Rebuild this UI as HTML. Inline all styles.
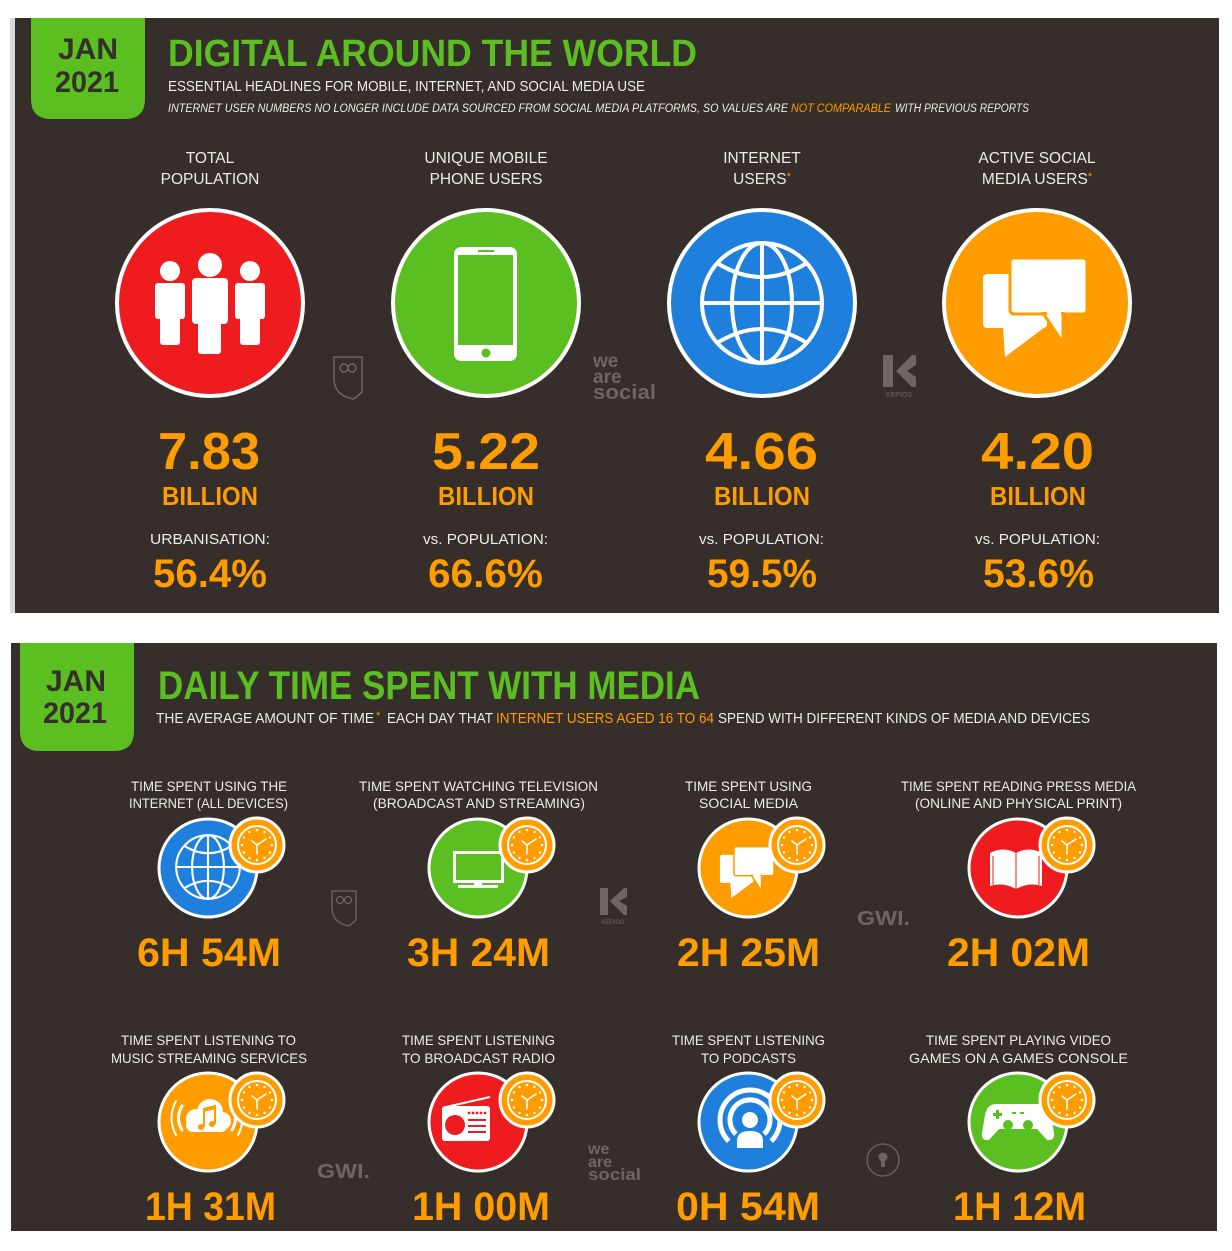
<!DOCTYPE html>
<html><head><meta charset="utf-8"><style>
html,body{margin:0;padding:0;background:#fff;}
svg{display:block;}
text{font-family:"Liberation Sans",sans-serif;}
</style></head><body>
<svg width="1232" height="1251" viewBox="0 0 1232 1251" xmlns="http://www.w3.org/2000/svg">
<defs>
  <g id="clk">
    <circle r="27" fill="#ff9c00" stroke="#fff" stroke-width="3"/>
    <circle r="19" fill="none" stroke="#fff" stroke-width="2"/>
    <g fill="#fff">
      <circle cx="0" cy="-15" r="1.3"/><circle cx="7.5" cy="-13" r="1.2"/><circle cx="13" cy="-7.5" r="1.2"/>
      <circle cx="15" cy="0" r="1.3"/><circle cx="13" cy="7.5" r="1.2"/><circle cx="7.5" cy="13" r="1.2"/>
      <circle cx="0" cy="15" r="1.3"/><circle cx="-7.5" cy="13" r="1.2"/><circle cx="-13" cy="7.5" r="1.2"/>
      <circle cx="-15" cy="0" r="1.3"/><circle cx="-13" cy="-7.5" r="1.2"/><circle cx="-7.5" cy="-13" r="1.2"/>
    </g>
    <g stroke="#fff" stroke-width="1.6" stroke-linecap="round">
      <line x1="0" y1="0" x2="9" y2="-6"/><line x1="0" y1="0" x2="-5" y2="-4"/><line x1="0" y1="0" x2="0" y2="9"/>
    </g>
  </g>
  <g id="globe" fill="none" stroke="#fff" stroke-width="4">
    <circle r="60"/>
    <line x1="0" y1="-60" x2="0" y2="60"/>
    <line x1="-60" y1="0" x2="60" y2="0"/>
    <ellipse rx="30" ry="60"/>
    <path d="M-45,-40 Q0,-12 45,-40"/>
    <path d="M-45,40 Q0,12 45,40"/>
  </g>
  <g id="chat">
    <rect x="-54" y="-29" width="64" height="54" rx="4" fill="#fff"/>
    <polygon points="-34,24 -32,54 8,24" fill="#fff"/>
    <rect x="-27" y="-45" width="77" height="56" rx="4" fill="#fff" stroke="#ff9c00" stroke-width="3"/>
    <polygon points="6,10 26,40 26,10" fill="#fff" stroke="#ff9c00" stroke-width="3" stroke-linejoin="round"/>
    <rect x="-25" y="-43" width="73" height="52" rx="3" fill="#fff"/>
    <polygon points="9,8 24,34 24,8" fill="#fff"/>
  </g>
</defs>

<!-- ============ TOP PANEL ============ -->
<rect x="10" y="18" width="5" height="595" fill="#d9d9d9"/>
<rect x="15" y="18" width="1204" height="595" fill="#352e2a"/>
<path d="M31,18 H145 V99 Q145,119 125,119 H51 Q31,119 31,99 Z" fill="#5bbf21"/>
<text x="88" y="59" font-size="30" font-weight="bold" fill="#352e2a" text-anchor="middle">JAN</text>
<text x="55" y="92" font-size="30" font-weight="bold" fill="#352e2a" textLength="64" lengthAdjust="spacingAndGlyphs">2021</text>

<text x="168" y="66" font-size="38" font-weight="bold" fill="#5bbf21" textLength="529" lengthAdjust="spacingAndGlyphs">DIGITAL AROUND THE WORLD</text>
<text x="168" y="91" font-size="15" fill="#ececec" textLength="477" lengthAdjust="spacingAndGlyphs">ESSENTIAL HEADLINES FOR MOBILE, INTERNET, AND SOCIAL MEDIA USE</text>
<text x="168" y="112" font-size="11.5" font-style="italic" fill="#ececec" textLength="620" lengthAdjust="spacingAndGlyphs">INTERNET USER NUMBERS NO LONGER INCLUDE DATA SOURCED FROM SOCIAL MEDIA PLATFORMS, SO VALUES ARE</text>
<text x="791" y="112" font-size="11.5" font-style="italic" fill="#ff9c00" textLength="100" lengthAdjust="spacingAndGlyphs">NOT COMPARABLE</text>
<text x="895" y="112" font-size="11.5" font-style="italic" fill="#ececec" textLength="134" lengthAdjust="spacingAndGlyphs">WITH PREVIOUS REPORTS</text>

<g font-size="15.5" fill="#ececec" text-anchor="middle">
  <text x="210" y="163">TOTAL</text>
  <text x="210" y="184">POPULATION</text>
  <text x="486" y="163">UNIQUE MOBILE</text>
  <text x="486" y="184">PHONE USERS</text>
  <text x="762" y="163">INTERNET</text>
  <text x="762" y="184">USERS<tspan fill="#ff9c00" font-size="11" dy="-4">*</tspan></text>
  <text x="1037" y="163">ACTIVE SOCIAL</text>
  <text x="1037" y="184">MEDIA USERS<tspan fill="#ff9c00" font-size="11" dy="-4">*</tspan></text>
</g>

<!-- circles -->
<circle cx="210" cy="303" r="93" fill="#ee1c1e" stroke="#fff" stroke-width="4"/>
<circle cx="486" cy="303" r="93" fill="#5bbf21" stroke="#fff" stroke-width="4"/>
<circle cx="762" cy="303" r="93" fill="#1e7fdc" stroke="#fff" stroke-width="4"/>
<circle cx="1037" cy="303" r="93" fill="#ff9c00" stroke="#fff" stroke-width="4"/>

<!-- people -->
<g fill="#fff">
  <circle cx="210" cy="265" r="12"/>
  <rect x="192" y="278" width="36" height="46" rx="4"/>
  <rect x="198" y="310" width="23" height="44" rx="3"/>
  <circle cx="170" cy="271" r="10"/>
  <rect x="155" y="283" width="30" height="36" rx="3"/>
  <rect x="160" y="305" width="20" height="40" rx="3"/>
  <circle cx="250" cy="271" r="10"/>
  <rect x="235" y="283" width="30" height="36" rx="3"/>
  <rect x="240" y="305" width="20" height="40" rx="3"/>
</g>
<g stroke="#ee1c1e" stroke-width="2">
  <line x1="191" y1="280" x2="191" y2="324"/>
  <line x1="229" y1="280" x2="229" y2="324"/>
</g>

<!-- phone -->
<rect x="454" y="247" width="63" height="114" rx="7" fill="#fff"/>
<rect x="458" y="255" width="55" height="90" fill="#5bbf21"/>
<circle cx="486" cy="353" r="4.5" fill="#5bbf21"/>
<rect x="478" y="250" width="16" height="2" fill="#5bbf21"/>

<!-- globe -->
<use href="#globe" x="762" y="303"/>

<!-- chat -->
<use href="#chat" x="1037" y="303"/>

<!-- top logos -->
<g fill="none" stroke="#6d6764" stroke-width="1.5">
  <path d="M334,357 H362 V392 L354,399 Q334,396 334,378 Z"/>
  <circle cx="344" cy="368" r="4"/><circle cx="352" cy="368" r="4"/>
</g>
<g font-weight="bold" fill="#6d6764">
  <text x="593" y="367" font-size="19">we</text>
  <text x="593" y="383" font-size="19">are</text>
  <text x="593" y="399" font-size="20" textLength="63" lengthAdjust="spacingAndGlyphs">social</text>
</g>
<g fill="#6d6764">
  <rect x="883" y="355" width="10" height="32"/>
  <polygon points="896,371 912,355 916,355 916,365 907,371 916,377 916,387 912,387"/>
  <text x="899" y="397" font-size="7" text-anchor="middle">KEPIOS</text>
</g>

<!-- top numbers -->
<g font-weight="bold" fill="#ff9c00">
  <text x="158" y="469" font-size="52" textLength="102" lengthAdjust="spacingAndGlyphs">7.83</text>
  <text x="432" y="469" font-size="52" textLength="108" lengthAdjust="spacingAndGlyphs">5.22</text>
  <text x="705" y="469" font-size="52" textLength="113" lengthAdjust="spacingAndGlyphs">4.66</text>
  <text x="981" y="469" font-size="52" textLength="113" lengthAdjust="spacingAndGlyphs">4.20</text>
  <text x="162" y="505" font-size="26" textLength="96" lengthAdjust="spacingAndGlyphs">BILLION</text>
  <text x="438" y="505" font-size="26" textLength="96" lengthAdjust="spacingAndGlyphs">BILLION</text>
  <text x="714" y="505" font-size="26" textLength="96" lengthAdjust="spacingAndGlyphs">BILLION</text>
  <text x="990" y="505" font-size="26" textLength="96" lengthAdjust="spacingAndGlyphs">BILLION</text>
  <text x="153" y="587" font-size="40" textLength="114" lengthAdjust="spacingAndGlyphs">56.4%</text>
  <text x="428" y="587" font-size="40" textLength="115" lengthAdjust="spacingAndGlyphs">66.6%</text>
  <text x="707" y="587" font-size="40" textLength="110" lengthAdjust="spacingAndGlyphs">59.5%</text>
  <text x="983" y="587" font-size="40" textLength="111" lengthAdjust="spacingAndGlyphs">53.6%</text>
</g>
<g font-size="15" fill="#ececec">
  <text x="150" y="544" textLength="120" lengthAdjust="spacingAndGlyphs">URBANISATION:</text>
  <text x="423" y="544" textLength="125" lengthAdjust="spacingAndGlyphs">vs. POPULATION:</text>
  <text x="699" y="544" textLength="125" lengthAdjust="spacingAndGlyphs">vs. POPULATION:</text>
  <text x="975" y="544" textLength="125" lengthAdjust="spacingAndGlyphs">vs. POPULATION:</text>
</g>

<!-- ============ BOTTOM PANEL ============ -->
<rect x="11" y="643" width="1206" height="588" fill="#352e2a"/>
<path d="M20,643 H134 V731 Q134,751 114,751 H40 Q20,751 20,731 Z" fill="#5bbf21"/>
<text x="76" y="691" font-size="30" font-weight="bold" fill="#352e2a" text-anchor="middle">JAN</text>
<text x="43" y="723" font-size="30" font-weight="bold" fill="#352e2a" textLength="64" lengthAdjust="spacingAndGlyphs">2021</text>

<text x="158" y="699" font-size="40" font-weight="bold" fill="#5bbf21" textLength="542" lengthAdjust="spacingAndGlyphs">DAILY TIME SPENT WITH MEDIA</text>
<g font-size="14.5">
  <text x="156" y="723" fill="#ececec" textLength="218" lengthAdjust="spacingAndGlyphs">THE AVERAGE AMOUNT OF TIME</text>
  <text x="376" y="719" fill="#ff9c00" font-size="11">*</text>
  <text x="387" y="723" fill="#ececec" textLength="106" lengthAdjust="spacingAndGlyphs">EACH DAY THAT</text>
  <text x="496" y="723" fill="#ff9c00" textLength="218" lengthAdjust="spacingAndGlyphs">INTERNET USERS AGED 16 TO 64</text>
  <text x="718" y="723" fill="#ececec" textLength="372" lengthAdjust="spacingAndGlyphs">SPEND WITH DIFFERENT KINDS OF MEDIA AND DEVICES</text>
</g>

<g font-size="14" fill="#ececec">
  <text x="131" y="791" textLength="156" lengthAdjust="spacingAndGlyphs">TIME SPENT USING THE</text>
  <text x="129" y="808" textLength="159" lengthAdjust="spacingAndGlyphs">INTERNET (ALL DEVICES)</text>
  <text x="359" y="791" textLength="239" lengthAdjust="spacingAndGlyphs">TIME SPENT WATCHING TELEVISION</text>
  <text x="373" y="808" textLength="212" lengthAdjust="spacingAndGlyphs">(BROADCAST AND STREAMING)</text>
  <text x="685" y="791" textLength="127" lengthAdjust="spacingAndGlyphs">TIME SPENT USING</text>
  <text x="699" y="808" textLength="99" lengthAdjust="spacingAndGlyphs">SOCIAL MEDIA</text>
  <text x="901" y="791" textLength="235" lengthAdjust="spacingAndGlyphs">TIME SPENT READING PRESS MEDIA</text>
  <text x="915" y="808" textLength="207" lengthAdjust="spacingAndGlyphs">(ONLINE AND PHYSICAL PRINT)</text>

  <text x="121" y="1045" textLength="175" lengthAdjust="spacingAndGlyphs">TIME SPENT LISTENING TO</text>
  <text x="111" y="1063" textLength="196" lengthAdjust="spacingAndGlyphs">MUSIC STREAMING SERVICES</text>
  <text x="402" y="1045" textLength="153" lengthAdjust="spacingAndGlyphs">TIME SPENT LISTENING</text>
  <text x="402" y="1063" textLength="153" lengthAdjust="spacingAndGlyphs">TO BROADCAST RADIO</text>
  <text x="672" y="1045" textLength="153" lengthAdjust="spacingAndGlyphs">TIME SPENT LISTENING</text>
  <text x="701" y="1063" textLength="95" lengthAdjust="spacingAndGlyphs">TO PODCASTS</text>
  <text x="926" y="1045" textLength="185" lengthAdjust="spacingAndGlyphs">TIME SPENT PLAYING VIDEO</text>
  <text x="909" y="1063" textLength="219" lengthAdjust="spacingAndGlyphs">GAMES ON A GAMES CONSOLE</text>
</g>

<!-- bottom circles row 1 -->
<circle cx="208" cy="868" r="49" fill="#1e7fdc" stroke="#fff" stroke-width="3"/>
<circle cx="478" cy="868" r="49" fill="#5bbf21" stroke="#fff" stroke-width="3"/>
<circle cx="748" cy="868" r="49" fill="#ff9c00" stroke="#fff" stroke-width="3"/>
<circle cx="1018" cy="868" r="49" fill="#ee1c1e" stroke="#fff" stroke-width="3"/>
<!-- row 2 -->
<circle cx="208" cy="1122" r="49" fill="#ff9c00" stroke="#fff" stroke-width="3"/>
<circle cx="478" cy="1122" r="49" fill="#ee1c1e" stroke="#fff" stroke-width="3"/>
<circle cx="748" cy="1122" r="49" fill="#1e7fdc" stroke="#fff" stroke-width="3"/>
<circle cx="1018" cy="1122" r="49" fill="#5bbf21" stroke="#fff" stroke-width="3"/>

<!-- globe small -->
<g transform="translate(208,867) scale(0.53)"><use href="#globe"/></g>
<!-- tv -->
<rect x="454.5" y="852.5" width="48" height="29" fill="#5bbf21" stroke="#fff" stroke-width="3"/>
<rect x="474" y="882" width="8" height="4" fill="#fff"/>
<rect x="458" y="885" width="40" height="3" fill="#fff"/>
<!-- chat small -->
<g transform="translate(748,870) scale(0.52)"><use href="#chat"/></g>
<!-- book -->
<g fill="#fff">
  <path d="M990,853 Q1003,846 1016,853 V889 Q1003,882 990,886 Z"/>
  <path d="M1042,853 Q1029,846 1016,853 V889 Q1029,882 1042,886 Z"/>
</g>
<g fill="none" stroke="#ee1c1e" stroke-width="1">
  <line x1="1016" y1="853" x2="1016" y2="889"/>
  <path d="M993,856 V885"/><path d="M1039,856 V885"/>
</g>
<!-- music cloud -->
<g fill="#fff">
  <circle cx="196" cy="1119" r="10"/>
  <circle cx="210" cy="1112" r="13"/>
  <circle cx="222" cy="1121" r="9"/>
  <rect x="186" y="1118" width="42" height="14" rx="7"/>
</g>
<g fill="#ff9c00">
  <circle cx="201" cy="1127" r="3"/>
  <circle cx="212" cy="1124" r="3"/>
  <rect x="203" y="1108" width="2" height="19"/>
  <rect x="214" y="1105" width="2" height="19"/>
  <polygon points="203,1108 216,1105 216,1109 203,1112"/>
</g>
<g fill="none" stroke="#fff" stroke-linecap="round">
  <path d="M182,1106 Q175,1118 182,1130" stroke-width="3"/>
  <path d="M176,1101 Q167,1118 176,1135" stroke-width="2"/>
  <path d="M232,1106 Q239,1118 232,1130" stroke-width="3"/>
  <path d="M238,1101 Q247,1118 238,1135" stroke-width="2"/>
</g>
<!-- radio -->
<line x1="446" y1="1107" x2="490" y2="1097" stroke="#fff" stroke-width="2"/>
<rect x="442" y="1106" width="48" height="35" rx="3" fill="#fff"/>
<circle cx="455" cy="1125" r="10" fill="#ee1c1e"/>
<g fill="#ee1c1e">
  <circle cx="469" cy="1113" r="1.4"/><circle cx="473" cy="1113" r="1.4"/><circle cx="477" cy="1113" r="1.4"/><circle cx="481" cy="1113" r="1.4"/><circle cx="485" cy="1113" r="1.4"/>
  <rect x="468" y="1119" width="18" height="2"/><rect x="468" y="1125" width="18" height="2"/><rect x="468" y="1131" width="18" height="2"/>
</g>
<!-- podcast -->
<g fill="none" stroke="#fff" stroke-width="5">
  <path d="M728.8,1141.2 A30,30 0 1 1 771.2,1141.2"/>
  <path d="M735.9,1134.1 A20,20 0 1 1 764.1,1134.1"/>
</g>
<circle cx="750" cy="1120" r="8" fill="#fff"/>
<path d="M737,1148 V1141 Q737,1131 750,1131 Q763,1131 763,1141 V1148 Z" fill="#fff"/>
<!-- gamepad -->
<path d="M996,1104 H1040 Q1049,1104 1051,1115 L1054,1133 Q1055,1141 1047,1140 L1037,1129 H999 L989,1140 Q981,1141 982,1133 L985,1115 Q987,1104 996,1104 Z" fill="#fff"/>
<g fill="#5bbf21">
  <rect x="993" y="1113" width="9" height="3"/><rect x="996" y="1110" width="3" height="9"/>
  <circle cx="1008" cy="1125" r="5"/><circle cx="1028" cy="1125" r="5"/>
  <rect x="1012" y="1112" width="4" height="2"/><rect x="1020" y="1112" width="4" height="2"/>
</g>

<!-- clocks -->
<use href="#clk" x="257" y="845"/>
<use href="#clk" x="527" y="845"/>
<use href="#clk" x="797" y="845"/>
<use href="#clk" x="1067" y="845"/>
<use href="#clk" x="257" y="1100"/>
<use href="#clk" x="527" y="1100"/>
<use href="#clk" x="797" y="1100"/>
<use href="#clk" x="1067" y="1100"/>

<!-- bottom logos -->
<g fill="none" stroke="#6d6764" stroke-width="1.3">
  <path d="M332,891 H356 V920 L349,926 Q332,923 332,907 Z"/>
  <circle cx="340" cy="900" r="3.5"/><circle cx="348" cy="900" r="3.5"/>
</g>
<g fill="#6d6764">
  <rect x="600" y="888" width="8" height="27"/>
  <polygon points="610,901 624,888 627,888 627,897 619,901 627,906 627,915 624,915"/>
  <text x="613" y="924" font-size="6" text-anchor="middle">KEPIOS</text>
</g>
<g font-weight="bold" fill="#6d6764">
  <text x="857" y="925" font-size="20" textLength="53" lengthAdjust="spacingAndGlyphs">GWI.</text>
  <text x="317" y="1178" font-size="20" textLength="53" lengthAdjust="spacingAndGlyphs">GWI.</text>
  <text x="588" y="1154" font-size="16">we</text>
  <text x="588" y="1167" font-size="16">are</text>
  <text x="588" y="1180" font-size="17" textLength="53" lengthAdjust="spacingAndGlyphs">social</text>
</g>
<circle cx="883" cy="1160" r="16" fill="none" stroke="#6d6764" stroke-width="1.3"/>
<g fill="#6d6764">
  <circle cx="883" cy="1157" r="4.5"/>
  <rect x="881" y="1161" width="4" height="6"/>
</g>

<!-- bottom values -->
<g font-weight="bold" fill="#ff9c00" font-size="40">
  <text x="137" y="966" textLength="144" lengthAdjust="spacingAndGlyphs">6H 54M</text>
  <text x="407" y="966" textLength="143" lengthAdjust="spacingAndGlyphs">3H 24M</text>
  <text x="677" y="966" textLength="143" lengthAdjust="spacingAndGlyphs">2H 25M</text>
  <text x="947" y="966" textLength="143" lengthAdjust="spacingAndGlyphs">2H 02M</text>
  <text x="145" y="1220" textLength="131" lengthAdjust="spacingAndGlyphs">1H 31M</text>
  <text x="412" y="1220" textLength="138" lengthAdjust="spacingAndGlyphs">1H 00M</text>
  <text x="676" y="1220" textLength="144" lengthAdjust="spacingAndGlyphs">0H 54M</text>
  <text x="953" y="1220" textLength="133" lengthAdjust="spacingAndGlyphs">1H 12M</text>
</g>
</svg>
</body></html>
